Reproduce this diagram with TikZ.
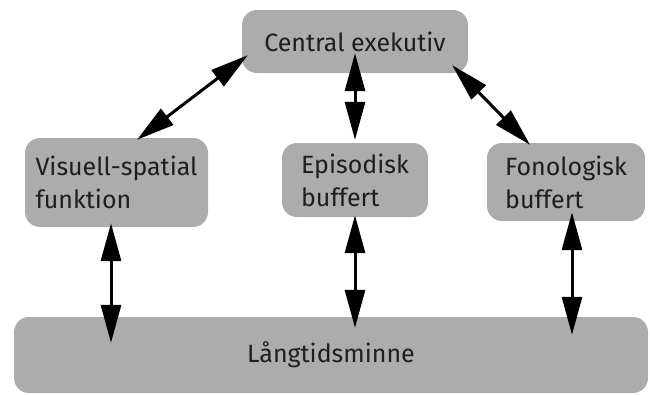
\documentclass[tikz,border=0pt]{standalone}
\usepackage{fontspec}
\setmainfont{Fira Sans}
\usetikzlibrary{arrows.meta,calc}
\definecolor{boxgray}{RGB}{172,172,172}
\definecolor{textdark}{RGB}{30,30,30}

\begin{document}
\begin{tikzpicture}[x=1pt,y=-1pt,
    box/.style={fill=boxgray,rounded corners=15pt,align=left,inner sep=0pt,
      text=textdark,font=\fontsize{25}{33}\selectfont},
    link/.style={line width=3pt,
      {Triangle[length=38pt,width=20pt]}-{Triangle[length=38pt,width=20pt]}}]
  %%%%% START %%%%%
  \useasboundingbox (0,0) rectangle (650,394);

  \node[box,minimum width=226pt,minimum height=63pt] (ce) at (355,41.5) {Central exekutiv};
  \node[box,minimum width=183pt,minimum height=89pt] (vs) at (116.5,182.5) {Visuell-spatial\\funktion};
  \node[box,minimum width=146pt,minimum height=74pt] (ep) at (355,180) {Episodisk\\buffert};
  \node[box,minimum width=158pt,minimum height=78pt] (fo) at (566,182) {Fonologisk\\buffert};
  \node[box,minimum width=634pt,minimum height=76pt] (ltm) at (331,355) {Långtidsminne};

  \draw[link] ($(ce.south west)+(6,-18)$) -- ($(vs.north)+(20.5,2)$);
  \draw[link] ($(ce.south)+(0,-20)$) -- ($(ep.north)+(0,-3)$);
  \draw[link] ($(ce.south east)+(-16,-8)$) -- ($(fo.north)+(-36,2)$);

  \draw[link] ($(vs.south)+(-5.5,-4)$) -- ($(vs.south |- ltm.north)+(-5.5,26)$);
  \draw[link] ($(ep.south)+(0,-2)$) -- ($(ep.south |- ltm.north)+(0,11)$);
  \draw[link] ($(fo.south)+(6,-9)$) -- ($(fo.south |- ltm.north)+(6,18)$);
  %%%%% END %%%%%
\end{tikzpicture}
\end{document}
